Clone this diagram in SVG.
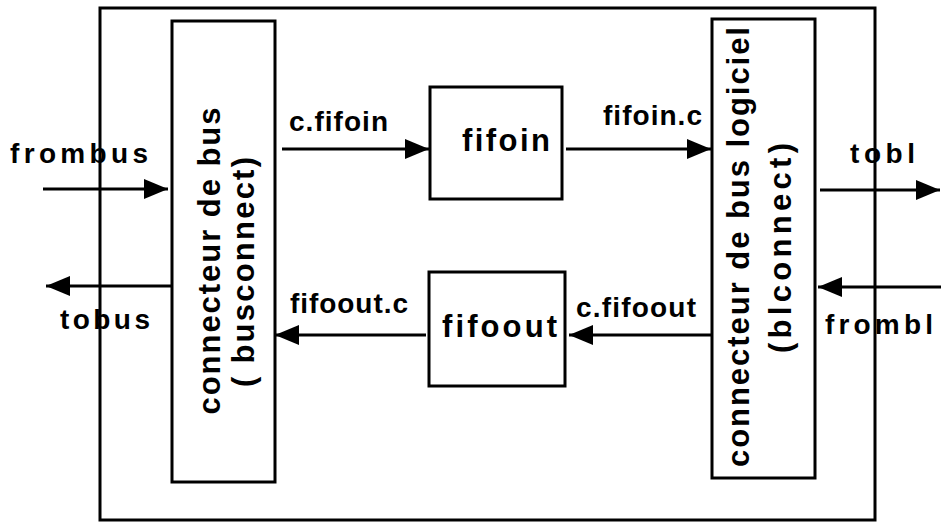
<svg xmlns="http://www.w3.org/2000/svg" width="941" height="530" viewBox="0 0 941 530">
<style>
.box{fill:none;stroke:#000;stroke-width:3}
.ln{fill:none;stroke:#000;stroke-width:3;marker-end:url(#ah)}
text{font-family:"Liberation Sans",Arial,sans-serif;font-weight:bold;fill:#000}
.lb{font-size:28px}
.big{font-size:31px}
.rot{font-size:31px}
</style>
<defs>
<marker id="ah" markerUnits="userSpaceOnUse" markerWidth="26" markerHeight="22" refX="24" refY="10" orient="auto">
<path d="M0,0 L24,10 L0,20 Z" fill="#000"/>
</marker>
</defs>
<rect width="941" height="530" fill="#fff"/>
<g id="outer"><rect class="box" x="100" y="8" width="775" height="512"/></g>
<g id="busconnect">
<rect class="box" x="172" y="21" width="103" height="461"/>
<text class="rot" transform="translate(220,261) rotate(-90)" text-anchor="middle" textLength="307" lengthAdjust="spacing">connecteur de bus</text>
<text class="rot" transform="translate(254,272) rotate(-90)" text-anchor="middle" textLength="230" lengthAdjust="spacing">( busconnect)</text>
</g>
<g id="blconnect">
<rect class="box" x="712" y="19" width="103" height="459"/>
<text class="rot" transform="translate(749,247) rotate(-90)" text-anchor="middle" textLength="440" lengthAdjust="spacing">connecteur de bus logiciel</text>
<text class="rot" transform="translate(791,248) rotate(-90)" text-anchor="middle" textLength="210" lengthAdjust="spacing">(blconnect)</text>
</g>
<g id="fifoin">
<rect class="box" x="430" y="87" width="132" height="112"/>
<text class="big" x="462" y="151" textLength="88" lengthAdjust="spacing">fifoin</text>
</g>
<g id="fifoout">
<rect class="box" x="429" y="272" width="136" height="114"/>
<text class="big" x="442" y="337" textLength="115" lengthAdjust="spacing">fifoout</text>
</g>
<g id="connectors">
<line class="ln" x1="43" y1="189" x2="168" y2="189"/>
<line class="ln" x1="172" y1="286" x2="46" y2="286"/>
<line class="ln" x1="282" y1="149" x2="429" y2="149"/>
<line class="ln" x1="566" y1="149" x2="711" y2="149"/>
<line class="ln" x1="426" y1="335" x2="275" y2="335"/>
<line class="ln" x1="712" y1="335" x2="569" y2="335"/>
<line class="ln" x1="820" y1="190" x2="940" y2="190"/>
<line class="ln" x1="941" y1="287" x2="818" y2="287"/>
</g>
<g id="labels">
<text class="lb" x="10" y="163" textLength="138" lengthAdjust="spacing">frombus</text>
<text class="lb" x="60" y="329" textLength="90" lengthAdjust="spacing">tobus</text>
<text class="lb" x="289" y="131" textLength="99" lengthAdjust="spacing">c.fifoin</text>
<text class="lb" x="603" y="125" textLength="99" lengthAdjust="spacing">fifoin.c</text>
<text class="lb" x="290" y="313" textLength="118" lengthAdjust="spacing">fifoout.c</text>
<text class="lb" x="576" y="317" textLength="120" lengthAdjust="spacing">c.fifoout</text>
<text class="lb" x="850" y="163" textLength="65" lengthAdjust="spacing">tobl</text>
<text class="lb" x="825" y="334" textLength="108" lengthAdjust="spacing">frombl</text>
</g>
</svg>
